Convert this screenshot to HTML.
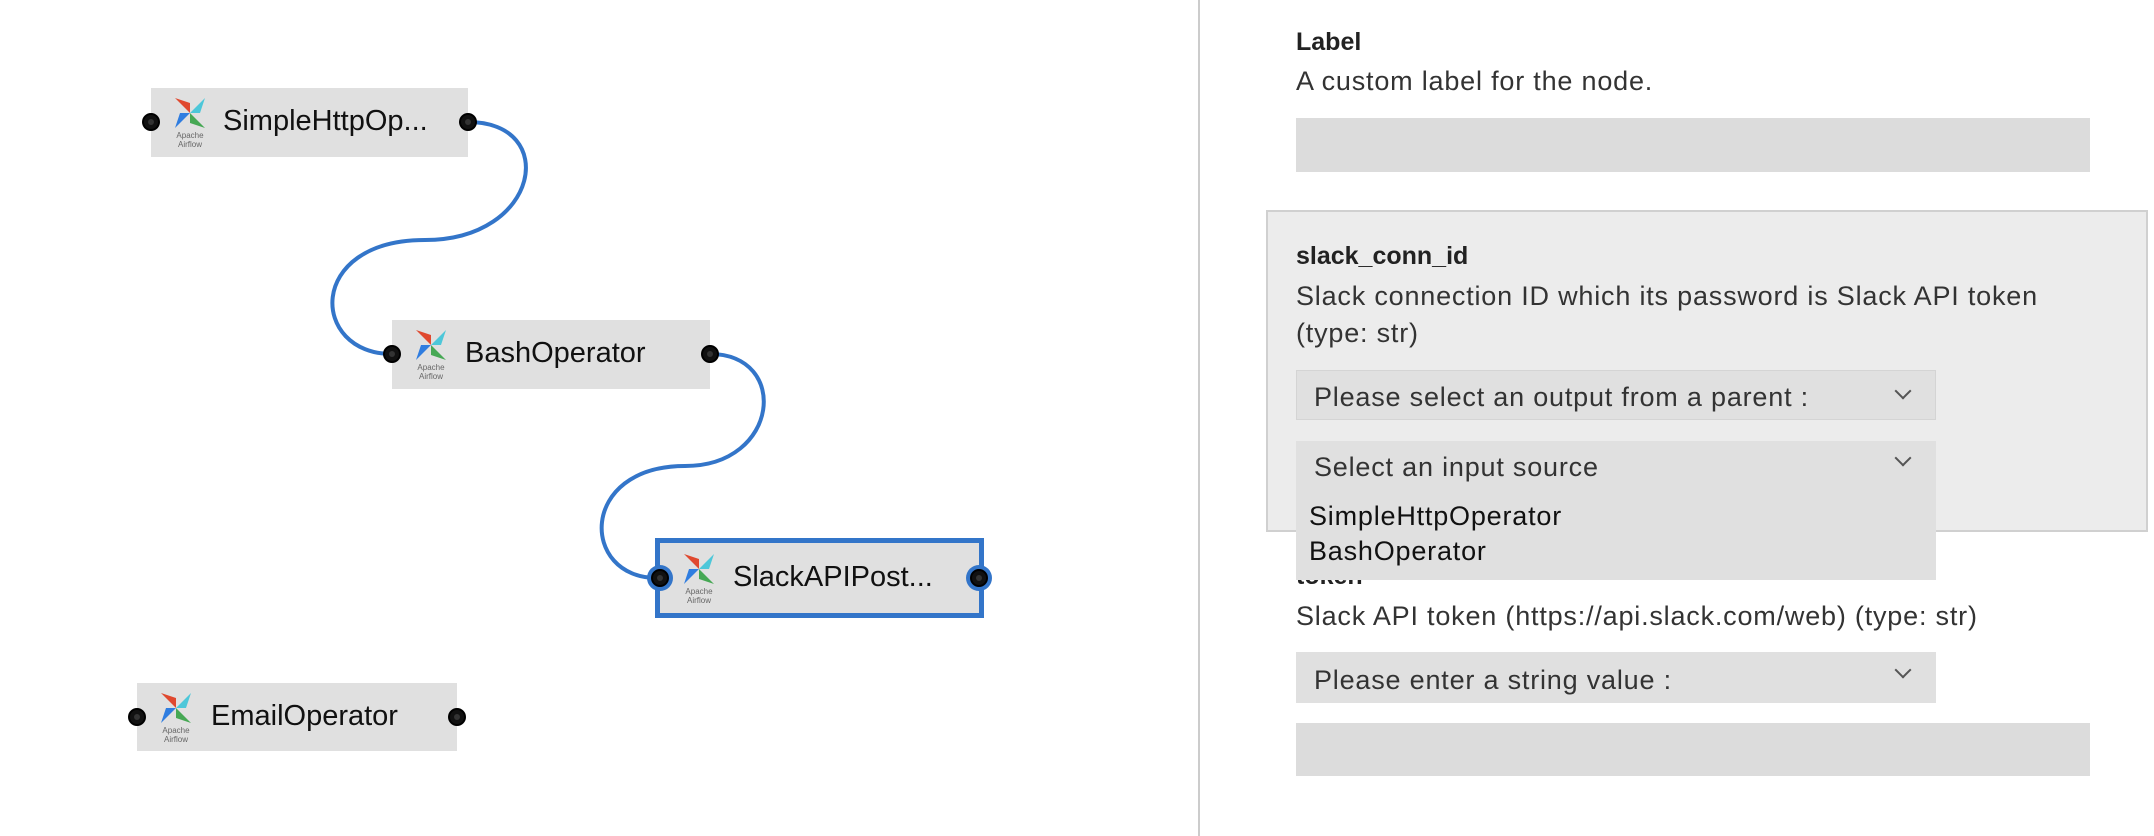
<!DOCTYPE html>
<html><head><meta charset="utf-8"><style>
body{margin:0;width:2154px;height:836px;background:#fff;position:relative;overflow:hidden;font-family:"Liberation Sans",sans-serif;color:#222}
.a{position:absolute}
.lbl{position:absolute;font-size:29px;color:#111;white-space:nowrap}
.port{position:absolute;width:18px;height:18px;border-radius:50%;background:#111;box-sizing:border-box;border:2px solid #000}
.port:after{content:"";position:absolute;left:4px;top:4px;width:6px;height:6px;border-radius:50%;background:#333}
.t{position:absolute;font-size:27px;letter-spacing:0.8px;color:#333;white-space:nowrap}
.b{font-weight:bold;color:#222;font-size:25px;letter-spacing:0px}
.box{position:absolute;background:#dcdcdc}
.sel{position:absolute;background:#e0e0e0}
.chev{position:absolute;width:10px;height:10px;border-right:2px solid #555;border-bottom:2px solid #555;transform:rotate(45deg)}
</style></head><body>
<svg class="a" style="left:0;top:0" width="1100" height="836">
<path d="M468,122 C560,122 540,240 425,240 C305,240 310,354 392,354" fill="none" stroke="#3375c9" stroke-width="4"/>
<path d="M710,354 C790,354 780,466 685,466 C578,466 580,578 657,578" fill="none" stroke="#3375c9" stroke-width="4"/>
<defs><g id="ic">
<polygon points="17,17 2,2 17,7" fill="#e0492f"/>
<polygon points="17,17 32,2 27,17" fill="#4dc7d9"/>
<polygon points="17,17 32,32 17,27" fill="#46a854"/>
<polygon points="17,17 2,32 7,17" fill="#2f7de0"/>
<text x="17" y="42" font-size="8" text-anchor="middle" fill="#666" font-family="Liberation Sans">Apache</text>
<text x="17" y="51" font-size="8" text-anchor="middle" fill="#666" font-family="Liberation Sans">Airflow</text>
</g></defs>
<rect x="151" y="88" width="317" height="69" fill="#e0e0e0"/>
<use href="#ic" x="173" y="96"/>
<rect x="392" y="320" width="318" height="69" fill="#e0e0e0"/>
<use href="#ic" x="414" y="328"/>
<rect x="657.5" y="540.5" width="324" height="75" fill="#e0e0e0" stroke="#3375c9" stroke-width="5"/>
<use href="#ic" x="682" y="552"/>
<rect x="137" y="683" width="320" height="68" fill="#e0e0e0"/>
<use href="#ic" x="159" y="691"/>
<circle cx="660" cy="578" r="13" fill="#3375c9"/>
<circle cx="979" cy="578" r="13" fill="#3375c9"/>
</svg>
<div class="lbl" style="left:223px;top:105px">SimpleHttpOp...</div>
<div class="lbl" style="left:465px;top:337px">BashOperator</div>
<div class="lbl" style="left:733px;top:561px">SlackAPIPost...</div>
<div class="lbl" style="left:211px;top:700px">EmailOperator</div>
<div class="port" style="left:142px;top:113px"></div>
<div class="port" style="left:459px;top:113px"></div>
<div class="port" style="left:383px;top:345px"></div>
<div class="port" style="left:701px;top:345px"></div>
<div class="port" style="left:651px;top:569px"></div>
<div class="port" style="left:970px;top:569px"></div>
<div class="port" style="left:128px;top:708px"></div>
<div class="port" style="left:448px;top:708px"></div>

<div class="a" style="left:1198px;top:0;width:2px;height:836px;background:#ccc"></div>
<div class="t b" style="left:1296px;top:28px">Label</div>
<div class="t" style="left:1296px;top:66px">A custom label for the node.</div>
<div class="box" style="left:1296px;top:118px;width:794px;height:54px"></div>

<div class="a" style="left:1266px;top:210px;width:878px;height:318px;background:#ececec;border:2px solid #d0d0d0"></div>
<div class="t b" style="left:1296px;top:242px">slack_conn_id</div>
<div class="t" style="left:1296px;top:281px">Slack connection ID which its password is Slack API token</div>
<div class="t" style="left:1296px;top:318px">(type: str)</div>
<div class="sel" style="left:1296px;top:370px;width:640px;height:50px;border:1px solid #d4d4d4;box-sizing:border-box"></div>
<div class="t" style="left:1314px;top:382px">Please select an output from a parent :</div>
<div class="chev" style="left:1897px;top:385px"></div>
<div class="t b" style="left:1296px;top:562px">token</div>
<div class="sel" style="left:1296px;top:441px;width:640px;height:139px"></div>
<div class="t" style="left:1314px;top:452px">Select an input source</div>
<div class="chev" style="left:1897px;top:452px"></div>
<div class="t" style="left:1309px;top:501px;color:#111">SimpleHttpOperator</div>
<div class="t" style="left:1309px;top:536px;color:#111">BashOperator</div>
<div class="t" style="left:1296px;top:601px">Slack API token (https://api.slack.com/web) (type: str)</div>
<div class="sel" style="left:1296px;top:652px;width:640px;height:51px"></div>
<div class="t" style="left:1314px;top:665px">Please enter a string value :</div>
<div class="chev" style="left:1897px;top:664px"></div>
<div class="box" style="left:1296px;top:723px;width:794px;height:53px"></div>
</body></html>
